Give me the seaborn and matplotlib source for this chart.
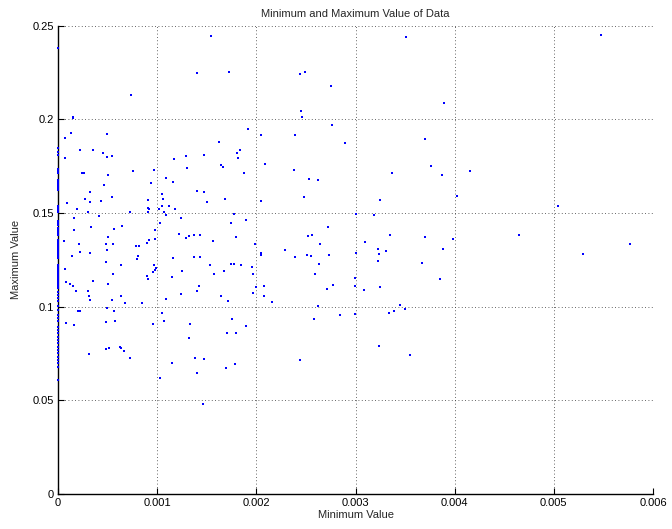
"""
Scatter of minimum vs maximum value of each data record (MATLAB look).
"""

import matplotlib
matplotlib.use("Agg")
import matplotlib.pyplot as plt
import seaborn as sns
import pandas as pd

# Records whose minimum is exactly 0 (column on the y axis)
zero_min_max = [
    0.2380, 0.1848, 0.1825, 0.1812, 0.1736, 0.1725, 0.1715,
    0.1677, 0.1668, 0.1660, 0.1650, 0.1642, 0.1633, 0.1624,
    0.1535, 0.1526, 0.1517, 0.1508, 0.1455, 0.1446, 0.1437,
    0.1419, 0.1410, 0.1401, 0.1393, 0.1384,
    0.1357, 0.1348, 0.1339, 0.1330, 0.1321, 0.1312, 0.1303, 0.1294,
    0.1286, 0.1277, 0.1268, 0.1259,
    0.1223, 0.1214, 0.1205, 0.1196, 0.1187, 0.1179, 0.1170, 0.1161,
    0.1152, 0.1143, 0.1134, 0.1125, 0.1116, 0.1107, 0.1098,
    0.1081, 0.1063, 0.1045, 0.1028, 0.1001, 0.0983,
    0.0956, 0.0938, 0.0921, 0.0894, 0.0876, 0.0858,
    0.0840, 0.0823, 0.0805, 0.0787, 0.0769, 0.0751, 0.0733, 0.0716,
    0.0698, 0.0680, 0.0609,
]

# Remaining records: minimum value / maximum value
min_value = [
    0.000733, 0.001398, 0.001539, 0.000155, 0.000155, 0.000074, 0.000128, 0.000497,
    0.000074, 0.000219, 0.000350, 0.000454, 0.000494, 0.000547, 0.000245, 0.000265,
    0.000507, 0.000756, 0.000971, 0.001085, 0.001169, 0.001287, 0.001304, 0.001472,
    0.001720, 0.002443, 0.002493, 0.002755, 0.002450, 0.002463, 0.001912, 0.002762,
    0.002043, 0.002392, 0.002893, 0.001623, 0.001832, 0.001804, 0.001817, 0.001646,
    0.001660, 0.001878, 0.002090, 0.002376, 0.002530, 0.002624, 0.003511, 0.003888,
    0.003703, 0.003757, 0.003370, 0.003874, 0.004156, 0.005474,
    0.001163, 0.000460, 0.000940, 0.001401, 0.001475, 0.000323, 0.000275, 0.000319,
    0.000437, 0.000541, 0.000087, 0.000192, 0.000302, 0.000413, 0.000161, 0.000158,
    0.000336, 0.000723, 0.000904, 0.000907, 0.000917, 0.000907, 0.001048, 0.001055,
    0.001122, 0.001018, 0.001048, 0.001072, 0.001092, 0.001182, 0.001243, 0.001031,
    0.000981, 0.001220, 0.001287, 0.001317, 0.001371, 0.001428, 0.000568, 0.000648,
    0.000507, 0.000064, 0.000215, 0.000487, 0.000557, 0.000497, 0.000225, 0.000326,
    0.000138, 0.000783, 0.000820, 0.000900, 0.000920, 0.000981, 0.000810, 0.000793,
    0.000484, 0.000632, 0.000971, 0.000988, 0.000975, 0.000955, 0.001159, 0.001371,
    0.001428, 0.001247, 0.000074, 0.000557, 0.000897, 0.000907, 0.000350, 0.000084,
    0.000124, 0.000154, 0.000507, 0.001152, 0.001424, 0.001401, 0.000178, 0.000299,
    0.000309, 0.000319, 0.000635, 0.000547, 0.000675, 0.000843, 0.001089, 0.001243,
    0.000202, 0.000222, 0.000491, 0.000562, 0.001045, 0.000084, 0.000158, 0.000481,
    0.000578, 0.000955, 0.001072, 0.001331,
    0.002483, 0.001686, 0.001505, 0.002046, 0.001771, 0.003004, 0.001892, 0.001741,
    0.002725, 0.001797, 0.002520, 0.002560, 0.001566, 0.001983, 0.002641, 0.002046,
    0.002046, 0.002292, 0.002392, 0.002513, 0.002550, 0.002732, 0.003007, 0.002631,
    0.001536, 0.001747, 0.001777, 0.001842, 0.001953, 0.001576, 0.001677, 0.001966,
    0.002594, 0.002990, 0.001996, 0.002077, 0.001963, 0.002073, 0.002157, 0.002769,
    0.002712, 0.002990, 0.001646, 0.001717, 0.002618, 0.002584, 0.002846, 0.002997,
    0.001757, 0.001898, 0.001700, 0.001794,
    0.003249, 0.004019, 0.003183, 0.003350, 0.003703, 0.003982, 0.003098, 0.003226,
    0.003236, 0.003310, 0.003884, 0.003229, 0.003669, 0.003851, 0.003249, 0.003085,
    0.003445, 0.003495, 0.003387, 0.003337, 0.003232, 0.003551,
    0.005040, 0.004644, 0.005769, 0.005292,
    0.000309, 0.000481, 0.000511, 0.000622, 0.000632, 0.000665, 0.000729, 0.001031,
    0.001152, 0.001324, 0.001384, 0.001472, 0.001401, 0.001462,
    0.001691, 0.001784, 0.002436,
]

max_value = [
    0.2131, 0.2247, 0.2443, 0.2014, 0.2005, 0.1900, 0.1928, 0.1921,
    0.1793, 0.1838, 0.1838, 0.1820, 0.1799, 0.1806, 0.1713, 0.1713,
    0.1704, 0.1722, 0.1727, 0.1688, 0.1790, 0.1804, 0.1743, 0.1809,
    0.2254, 0.2240, 0.2253, 0.2178, 0.2044, 0.2012, 0.1946, 0.1970,
    0.1916, 0.1919, 0.1873, 0.1879, 0.1836, 0.1822, 0.1793, 0.1757,
    0.1748, 0.1713, 0.1763, 0.1731, 0.1681, 0.1677, 0.2441, 0.2090,
    0.1895, 0.1752, 0.1713, 0.1704, 0.1725, 0.2452,
    0.1665, 0.1647, 0.1661, 0.1619, 0.1610, 0.1612, 0.1576, 0.1558,
    0.1565, 0.1583, 0.1551, 0.1519, 0.1506, 0.1483, 0.1474, 0.1409,
    0.1423, 0.1506, 0.1503, 0.1526, 0.1522, 0.1567, 0.1601, 0.1576,
    0.1540, 0.1524, 0.1538, 0.1506, 0.1489, 0.1519, 0.1476, 0.1446,
    0.1410, 0.1390, 0.1366, 0.1377, 0.1382, 0.1382, 0.1416, 0.1433,
    0.1371, 0.1353, 0.1335, 0.1335, 0.1334, 0.1300, 0.1291, 0.1284,
    0.1273, 0.1326, 0.1323, 0.1341, 0.1357, 0.1362, 0.1271, 0.1254,
    0.1236, 0.1223, 0.1222, 0.1209, 0.1198, 0.1186, 0.1259, 0.1266,
    0.1266, 0.1190, 0.1200, 0.1174, 0.1163, 0.1147, 0.1138, 0.1133,
    0.1120, 0.1109, 0.1120, 0.1156, 0.1113, 0.1086, 0.1084, 0.1083,
    0.1059, 0.1036, 0.1059, 0.1035, 0.1019, 0.1022, 0.1043, 0.1068,
    0.0979, 0.0979, 0.0992, 0.0979, 0.0965, 0.0915, 0.0903, 0.0917,
    0.0924, 0.0910, 0.0926, 0.0908,
    0.1585, 0.1576, 0.1561, 0.1565, 0.1494, 0.1497, 0.1464, 0.1446,
    0.1426, 0.1373, 0.1375, 0.1384, 0.1348, 0.1337, 0.1332, 0.1287,
    0.1278, 0.1300, 0.1266, 0.1278, 0.1271, 0.1275, 0.1284, 0.1229,
    0.1220, 0.1229, 0.1227, 0.1222, 0.1211, 0.1175, 0.1190, 0.1174,
    0.1175, 0.1152, 0.1107, 0.1113, 0.1075, 0.1056, 0.1026, 0.1118,
    0.1097, 0.1113, 0.1058, 0.1029, 0.1001, 0.0933, 0.0956, 0.0963,
    0.0935, 0.0899, 0.0858, 0.0862,
    0.1567, 0.1592, 0.1489, 0.1384, 0.1373, 0.1361, 0.1343, 0.1309,
    0.1282, 0.1296, 0.1307, 0.1243, 0.1234, 0.1147, 0.1106, 0.1088,
    0.1010, 0.0987, 0.0979, 0.0965, 0.0792, 0.0744,
    0.1538, 0.1382, 0.1336, 0.1280,
    0.0748, 0.0775, 0.0778, 0.0784, 0.0782, 0.0764, 0.0725, 0.0618,
    0.0701, 0.0833, 0.0726, 0.0723, 0.0648, 0.0481,
    0.0675, 0.0696, 0.0717,
]

x_ticks = [0, 0.001, 0.002, 0.003, 0.004, 0.005, 0.006]
x_tick_labels = ["0", "0.001", "0.002", "0.003", "0.004", "0.005", "0.006"]
y_ticks = [0, 0.05, 0.1, 0.15, 0.2, 0.25]
y_tick_labels = ["0", "0.05", "0.1", "0.15", "0.2", "0.25"]

sns.set_style("ticks")
plt.rcParams["font.family"] = ["Liberation Sans", "DejaVu Sans"]

df = pd.DataFrame({
    "min": [0.0] * len(zero_min_max) + min_value,
    "max": zero_min_max + max_value,
})

fig = plt.figure(figsize=(6.72, 5.29), dpi=100)
ax = fig.add_axes([58 / 672, 1 - 494 / 529, 595 / 672, 468.3 / 529])

ax.grid(True, color="#333333", linestyle=(0, (1, 3)), linewidth=0.6)
ax.set_axisbelow(True)

sns.scatterplot(data=df, x="min", y="max", ax=ax, color="#0000ff",
                s=4, linewidth=0, marker="s", clip_on=False, zorder=3)

ax.set_xlim(0, 0.006)
ax.set_ylim(0, 0.25)
ax.set_xticks(x_ticks)
ax.set_xticklabels(x_tick_labels)
ax.set_yticks(y_ticks)
ax.set_yticklabels(y_tick_labels)
ax.tick_params(direction="in", length=4, width=0.8, labelsize=8, colors="black", pad=3)

for side in ["top", "right"]:
    ax.spines[side].set_visible(False)
for side in ["left", "bottom"]:
    ax.spines[side].set_linewidth(1.0)
    ax.spines[side].set_color("black")

ax.set_title("Minimum and Maximum Value of Data", fontsize=8, pad=6)
ax.set_xlabel("Minimum Value", fontsize=8, labelpad=1)
ax.set_ylabel("Maximum Value", fontsize=8, labelpad=8)

fig.savefig("out.png", dpi=100)
